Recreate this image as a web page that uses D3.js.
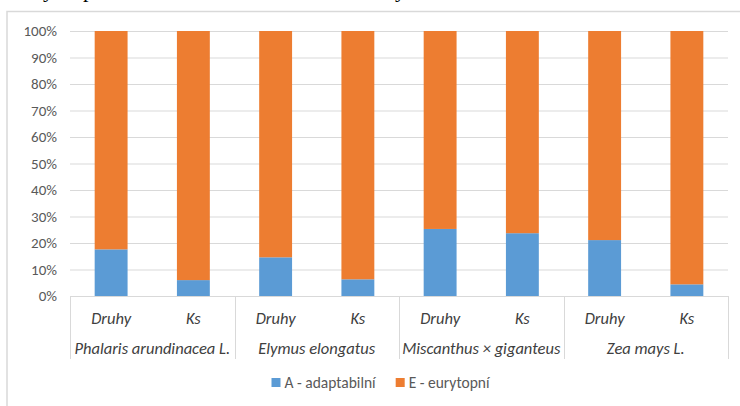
<!DOCTYPE html>
<html>
<head>
<meta charset="utf-8">
<script src="https://cdn.jsdelivr.net/npm/d3@7"></script>
<style>
  html, body { margin: 0; padding: 0; background: #fff; }
  svg { display: block; }
  text { font-family: Carlito, Lato, "Open Sans", sans-serif; }
</style>
</head>
<body>
<svg id="chart" width="740" height="406"></svg>
<script>
// Species groups and the two sub-categories within each
const species = ["Phalaris arundinacea L.", "Elymus elongatus", "Miscanthus × giganteus", "Zea mays L."];
const subgroups = ["Druhy", "Ks"];

// Share of adaptable (A) species per bar, in percent, in species order
const adaptabilni = [17.6, 6.0, 14.6, 6.3, 25.3, 23.7, 21.1, 4.4];
// Share of eurytopic (E) species per bar
const eurytopni = adaptabilni.map(v => 100 - v);

const seriesNames = ["A - adaptabilní", "E - eurytopní"];
const seriesColors = ["#5B9BD5", "#ED7D31"];
const yTicks = [0, 10, 20, 30, 40, 50, 60, 70, 80, 90, 100];

const rows = [];
species.forEach((sp, i) => {
  subgroups.forEach((sg, j) => {
    const k = i * subgroups.length + j;
    rows.push({ species: sp, sub: sg, A: adaptabilni[k], E: eurytopni[k] });
  });
});

const svg = d3.select("#chart");

// Descenders of the preceding text line, which runs off the top edge
svg.append("g")
  .selectAll("text")
  .data([{ x: 43, t: "y" }, { x: 83, t: "p" }, { x: 395, t: "y" }])
  .join("text")
  .attr("x", d => d.x).attr("y", -3)
  .style("font-family", "'Liberation Serif', serif")
  .style("font-size", "22px")
  .attr("fill", "#000")
  .text(d => d.t);

// Chart frame
svg.append("path")
  .attr("d", "M7,420 V11.5 H760")
  .attr("fill", "none")
  .attr("stroke", "#D9D9D9")
  .attr("stroke-width", 1.5);

const plot = { left: 70, right: 728, top: 31, bottom: 296 };

const x0 = d3.scaleBand().domain(species).range([plot.left, plot.right]).padding(0);
const x1 = d3.scaleBand().domain(subgroups).range([0, x0.bandwidth()]).paddingInner(0.6).paddingOuter(0.3);
const y = d3.scaleLinear().domain([0, 100]).range([plot.bottom, plot.top]);

// Gridlines
svg.append("g")
  .selectAll("line")
  .data(yTicks.filter(t => t > 0))
  .join("line")
  .attr("x1", plot.left).attr("x2", plot.right)
  .attr("y1", d => y(d) + 0.5).attr("y2", d => y(d) + 0.5)
  .attr("stroke", "#D9D9D9").attr("stroke-width", 1);

// Y axis labels
const yAxis = d3.axisLeft(y).tickValues(yTicks).tickFormat(d => d + "%").tickSize(0).tickPadding(0);
const yg = svg.append("g").attr("transform", `translate(${plot.left - 13},0)`).call(yAxis);
yg.select(".domain").remove();
yg.selectAll("text")
  .attr("fill", "#595959")
  .style("font-size", "15px")
  .style("font-family", "Carlito, Lato, 'Open Sans', sans-serif");

// Stacked bars
const stack = d3.stack().keys(["A", "E"]);
const stacked = stack(rows);
svg.append("g")
  .selectAll("g")
  .data(stacked)
  .join("g")
  .attr("fill", (d, i) => seriesColors[i])
  .selectAll("rect")
  .data(d => d)
  .join("rect")
  .attr("x", d => x0(d.data.species) + x1(d.data.sub))
  .attr("width", x1.bandwidth())
  .attr("y", d => y(d[1]))
  .attr("height", d => y(d[0]) - y(d[1]));

// Category axis: baseline and group separators
const axisG = svg.append("g");
axisG.append("line")
  .attr("x1", plot.left).attr("x2", plot.right)
  .attr("y1", plot.bottom + 0.5).attr("y2", plot.bottom + 0.5)
  .attr("stroke", "#D9D9D9");
const separators = species.map(s => x0(s)).concat([plot.right]);
axisG.selectAll("line.sep")
  .data(separators)
  .join("line")
  .attr("class", "sep")
  .attr("x1", d => Math.round(d) + 0.5).attr("x2", d => Math.round(d) + 0.5)
  .attr("y1", plot.bottom).attr("y2", 359)
  .attr("stroke", "#D9D9D9");

// Sub-category labels
axisG.selectAll("text.sub")
  .data(rows)
  .join("text")
  .attr("class", "sub")
  .attr("x", d => x0(d.species) + x1(d.sub) + x1.bandwidth() / 2)
  .attr("y", 324)
  .attr("text-anchor", "middle")
  .style("font-size", "16.5px")
  .style("font-style", "italic")
  .attr("fill", "#404040")
  .text(d => d.sub);

// Species labels
axisG.selectAll("text.sp")
  .data(species)
  .join("text")
  .attr("class", "sp")
  .attr("x", d => x0(d) + x0.bandwidth() / 2)
  .attr("y", 354)
  .attr("text-anchor", "middle")
  .style("font-size", "16.5px")
  .style("font-style", "italic")
  .attr("fill", "#404040")
  .text(d => d);

// Legend, laid out from measured label widths and centred under the plot
const legend = svg.append("g");
const items = seriesNames.map((name, i) => {
  const g = legend.append("g");
  g.append("rect")
    .attr("x", 0).attr("y", 378)
    .attr("width", 9).attr("height", 9)
    .attr("fill", seriesColors[i]);
  const t = g.append("text")
    .attr("x", 13).attr("y", 388)
    .style("font-size", "15.5px")
    .attr("fill", "#595959")
    .text(name);
  return { g, w: 13 + t.node().getComputedTextLength() };
});
const gap = 20;
const total = d3.sum(items, d => d.w) + gap * (items.length - 1);
let cx = 380.5 - total / 2;
items.forEach(it => {
  it.g.attr("transform", `translate(${cx},0)`);
  cx += it.w + gap;
});
</script>
</body>
</html>
